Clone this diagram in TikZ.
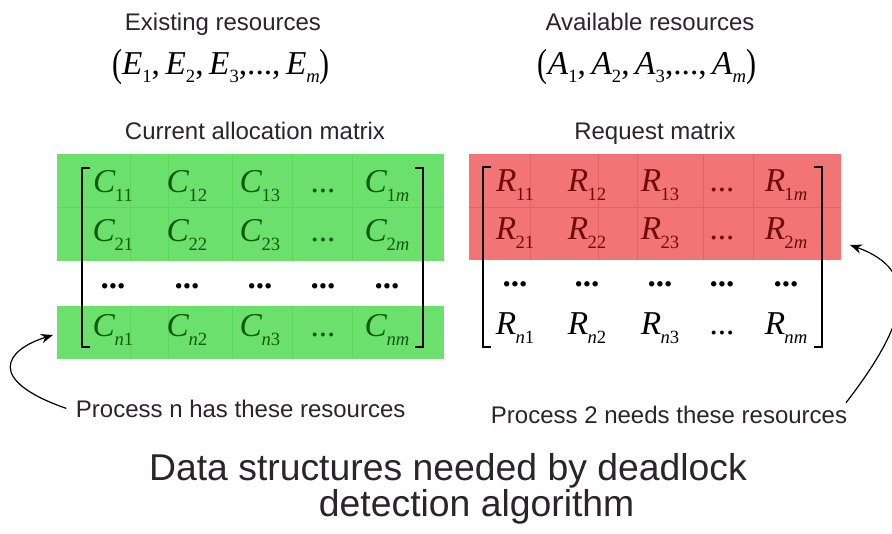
\documentclass[tikz,border=0pt]{standalone}
\usepackage{graphicx}
\usepackage{fontspec}
\setmainfont{Liberation Serif}
\newfontfamily\labelfont{Liberation Sans}
\usetikzlibrary{arrows,arrows.meta}

\definecolor{inkgray}{HTML}{2B2428}
\definecolor{allocgreen}{HTML}{6CE06C}
\definecolor{allocline}{HTML}{5CD85C}
\definecolor{allocink}{HTML}{0C5A0C}
\definecolor{requestred}{HTML}{F27474}
\definecolor{requestline}{HTML}{E66262}
\definecolor{requestink}{HTML}{6E0C0C}

% entry of a matrix or tuple: letter with lowered index
\newcommand{\ment}[2]{\textit{#1}\kern-0.5pt\raisebox{-6.5pt}{\fontsize{14}{15}\selectfont #2}}
\newcommand{\tent}[2]{\textit{#1}\raisebox{-6pt}{\fontsize{14}{15}\selectfont #2}}
\newcommand{\tallparen}[1]{\raisebox{-1.5pt}{\scalebox{0.9}[1.18]{#1}}}

\tikzset{
  lbl/.style={anchor=base,inner sep=2pt,text=inkgray,font=\labelfont\fontsize{18}{21}\selectfont},
  tuple/.style={anchor=base,inner sep=1pt,font=\fontsize{25}{28}\selectfont},
  entry/.style={anchor=base,inner sep=1pt,font=\fontsize{25}{28}\selectfont},
  title/.style={anchor=base,inner sep=0pt,align=center,text=inkgray,font=\labelfont\fontsize{28}{27}\selectfont},
  bracket/.style={line width=1.1pt},
  cellline/.style={line width=0.4pt},
  remark/.style={-{Stealth[length=9pt,width=7pt]},line width=0.9pt}
}

\begin{document}
\begin{tikzpicture}[x=0.75pt,y=-0.75pt]
\useasboundingbox (0,0) rectangle (892,534);

% vectors
\node[lbl] (exist) at (223,31) {Existing resources};
\node[tuple] (etuple) at (221,75) {\tallparen{(}\tent{E}{1},\,\tent{E}{2},\,\tent{E}{3},...,\,\tent{E}{\textit{m}}\tallparen{)}};
\node[lbl] (avail) at (650,31) {Available resources};
\node[tuple] (atuple) at (647,75) {\tallparen{(}\tent{A}{1},\,\tent{A}{2},\,\tent{A}{3},...,\,\tent{A}{\textit{m}}\tallparen{)}};

\node[lbl] (curlbl) at (255,140) {Current allocation matrix};
\node[lbl] (reqlbl) at (655,140) {Request matrix};

% shaded rows
\fill[allocgreen] (57,154) rectangle (444,261);
\fill[allocgreen] (57,306) rectangle (444,359);
\fill[requestred] (469,154) rectangle (841,260);

\draw[cellline,allocline] (57,207) -- (444,207);
\draw[cellline,requestline] (469,207) -- (841,207);
\foreach \x in {130,168,232,292,352}
  {\draw[cellline,allocline] (\x,154) -- (\x,261);
   \draw[cellline,allocline] (\x,306) -- (\x,359);}
\foreach \x in {530,598,637,703,753}
  \draw[cellline,requestline] (\x,154) -- (\x,260);

% current allocation matrix
\foreach \r/\y/\s in {1/193/1,2/242/2,n/337/\textit{n}}
{\foreach \c/\x in {1/113,2/187,3/260}
   \node[entry,text=allocink] (c\r\c) at (\x,\y) {\ment{C}{\s\c}};
 \node[entry,text=allocink] (c\r d) at (323,\y) {...};
 \node[entry,text=allocink] (c\r m) at (387,\y) {\ment{C}{\s\textit{m}}};}
\foreach \x in {113,187,260,323,387}
  \node[entry] (cdot\x) at (\x,289) {\textbf{...}};

\draw[bracket] (90,168) -- (82,168) -- (82,347) -- (90,347);
\draw[bracket] (415,168) -- (423,168) -- (423,347) -- (415,347);

% request matrix
\foreach \r/\y/\s/\k in {1/192/1/requestink,2/240/2/requestink,n/335/\textit{n}/black}
{\foreach \c/\x in {1/515,2/587,3/660}
   \node[entry,text=\k] (r\r\c) at (\x,\y) {\ment{R}{\s\c}};
 \node[entry,text=\k] (r\r d) at (722,\y) {...};
 \node[entry,text=\k] (r\r m) at (786,\y) {\ment{R}{\s\textit{m}}};}
\foreach \x in {515,587,660,722,786}
  \node[entry] (rdot\x) at (\x,287) {\textbf{...}};

\draw[bracket] (491,167) -- (483,167) -- (483,347) -- (491,347);
\draw[bracket] (814,167) -- (822,167) -- (822,347) -- (814,347);

% remarks
\node[lbl,anchor=base west] (pn) at (73,417) {Process n has these resources};
\node[lbl,anchor=base west] (p2) at (488,423) {Process 2 needs these resources};
\coordinate (ctip) at (53,335);
\coordinate (rtip) at (850,245);

\draw[remark] ([xshift=-5pt]pn.west) .. controls (-15,380) and (5,350) .. (ctip);
\draw[remark] ([xshift=-3pt]p2.north east) .. controls (910,320) and (920,270) .. (rtip);

\node[title] (head) at (448,516) {Data structures needed by deadlock\\\hspace*{43pt}detection algorithm};

\end{tikzpicture}
\end{document}
